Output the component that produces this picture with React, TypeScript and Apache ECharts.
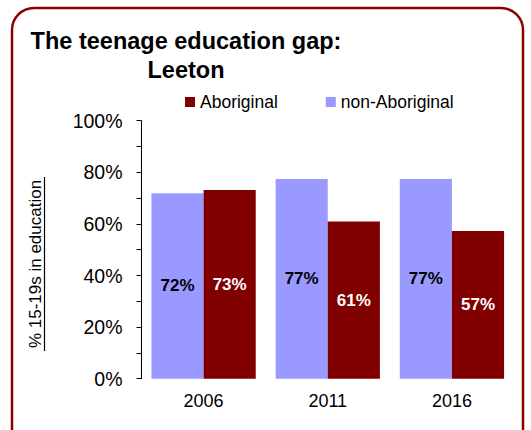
import React, { useEffect, useRef } from "react";
import * as echarts from "echarts";

const categories = ["2006", "2011", "2016"];
const nonAboriginal = [71.9, 77.4, 77.4];
const aboriginal = [73.1, 60.9, 57.2];
const legendNames = ["Aboriginal", "non-Aboriginal"];
const titleText = "The teenage education gap:\nLeeton";
const yAxisTitle = "% 15-19s in education";

export default function App() {
  const ref = useRef<HTMLDivElement>(null);
  useEffect(() => {
    if (!ref.current) return;
    const chart = echarts.init(ref.current, undefined, { renderer: "svg" });
    const font = "Liberation Sans, Arial, sans-serif";
    chart.setOption({
      animation: false,
      backgroundColor: "#ffffff",
      textStyle: { fontFamily: font },
      title: {
        text: titleText,
        left: 181,
        top: 21,
        textAlign: "center",
        textStyle: { fontSize: 23.5, fontWeight: "bold", color: "#000", lineHeight: 29, fontFamily: font },
      },
      legend: {
        data: legendNames,
        left: 180,
        top: 88,
        itemWidth: 10,
        itemHeight: 10,
        itemGap: 48,
        icon: "rect",
        textStyle: { fontSize: 17.5, color: "#000", fontFamily: font },
      },
      grid: { left: 141.5, right: 17, top: 120.7, bottom: 51.3, containLabel: false },
      xAxis: {
        type: "category",
        data: categories,
        axisLine: { show: false },
        axisTick: { show: false },
        axisLabel: { fontSize: 18, color: "#000", margin: 13, fontFamily: font },
      },
      yAxis: {
        type: "value",
        min: 0,
        max: 100,
        interval: 10,
        axisLine: { show: true, lineStyle: { color: "#000", width: 1 } },
        axisTick: { show: true, inside: false, length: 5, lineStyle: { color: "#000" } },
        splitLine: { show: false },
        axisLabel: {
          fontSize: 19.5,
          color: "#000",
          margin: 19,
          fontFamily: font,
          formatter: (v: number) => (v % 20 === 0 ? v + "%" : ""),
        },
      },
      series: [
        {
          name: "non-Aboriginal",
          type: "bar",
          data: nonAboriginal,
          barGap: "0%",
          barCategoryGap: "16%",
          itemStyle: { color: "#9999FF" },
          label: {
            show: true,
            position: "inside",
            fontSize: 17,
            fontWeight: "bold",
            color: "#000",
            fontFamily: font,
            formatter: (p: any) => Math.round(p.value) + "%",
          },
        },
        {
          name: "Aboriginal",
          type: "bar",
          data: aboriginal,
          barGap: "0%",
          barCategoryGap: "16%",
          itemStyle: { color: "#800000" },
          label: {
            show: true,
            position: "inside",
            fontSize: 17,
            fontWeight: "bold",
            color: "#fff",
            fontFamily: font,
            formatter: (p: any) => Math.round(p.value) + "%",
          },
        },
      ],
      graphic: [
        {
          type: "rect",
          z: -1,
          shape: { x: 12, y: 8, width: 511, height: 450, r: 22 },
          style: { fill: "none", stroke: "#8B0000", lineWidth: 2.5 },
        },
        {
          type: "text",
          x: 35,
          y: 264,
          rotation: Math.PI / 2,
          style: {
            text: yAxisTitle,
            align: "center",
            verticalAlign: "middle",
            fontSize: 17,
            fontFamily: font,
            fill: "#000",
          },
        },
        {
          type: "line",
          shape: { x1: 44.5, y1: 177, x2: 44.5, y2: 351 },
          style: { stroke: "#000", lineWidth: 1.2 },
        },
      ],
    });
    return () => chart.dispose();
  }, []);
  return (
    <div
      ref={ref}
      style={{ width: 531, height: 430, position: "absolute", left: 0, top: 0 }}
    />
  );
}
